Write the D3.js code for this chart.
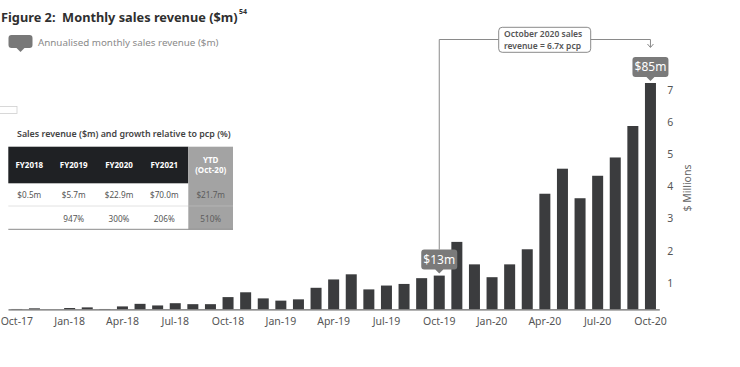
<!DOCTYPE html>
<html><head><meta charset="utf-8">
<script src="https://cdn.jsdelivr.net/npm/d3@7"></script>
<style>
html,body{margin:0;padding:0;background:#fff;}
svg{display:block;}
text{font-family:"Noto Sans",sans-serif;}
</style></head>
<body>
<svg id="c" width="740" height="367"></svg>
<script>
const months = ["Oct-17","Nov-17","Dec-17","Jan-18","Feb-18","Mar-18","Apr-18","May-18","Jun-18","Jul-18","Aug-18","Sep-18",
"Oct-18","Nov-18","Dec-18","Jan-19","Feb-19","Mar-19","Apr-19","May-19","Jun-19","Jul-19","Aug-19","Sep-19",
"Oct-19","Nov-19","Dec-19","Jan-20","Feb-20","Mar-20","Apr-20","May-20","Jun-20","Jul-20","Aug-20","Sep-20","Oct-20"];
const revenue = [0.01,0.03,0.0,0.04,0.06,0.01,0.09,0.17,0.12,0.19,0.16,0.16,
0.38,0.53,0.34,0.27,0.31,0.67,0.93,1.09,0.62,0.74,0.79,0.97,
1.05,2.1,1.40,1.0,1.40,1.87,3.60,4.38,3.46,4.16,4.73,5.71,7.05];
const xTicks = ["Oct-17","Jan-18","Apr-18","Jul-18","Oct-18","Jan-19","Apr-19","Jul-19","Oct-19","Jan-20","Apr-20","Jul-20","Oct-20"];
const yTicks = [1,2,3,4,5,6,7];
const tableHeader = ["FY2018","FY2019","FY2020","FY2021"];
const tableRevenue = ["$0.5m","$5.7m","$22.9m","$70.0m"];
const tableGrowth = ["","947%","300%","206%"];
const ytdRevenue = "$21.7m";
const ytdGrowth = "510%";
const callouts = [{month:"Oct-19", label:"$13m"},{month:"Oct-20", label:"$85m"}];

const svg = d3.select("#c");
const base = 309.3;
const x = d3.scaleBand().domain(months).range([8,659.3]).paddingInner(0.375).paddingOuter(0.19);
const y = d3.scaleLinear().domain([0,7]).range([base, base-7*32.1]);

// title (font size fitted so the text spans the reference width)
const title = svg.append("text").attr("x",1).attr("y",22).attr("fill","#2f2f2f")
  .style("font-size","14px").style("font-weight","700")
  .text("Figure 2:\u00a0\u00a0Monthly sales revenue ($m)");
const natural = title.node().getComputedTextLength();
const fs = Math.min(14, 14*237/natural);
title.style("font-size", fs+"px");
const tEnd = 1 + title.node().getComputedTextLength();
svg.append("text").attr("x",tEnd+1.5).attr("y",14).attr("fill","#2f2f2f")
  .style("font-size","7px").style("font-weight","700").text("54");

// legend
function calloutPath(g, cx, top, w, h, fill){
  const l=cx-w/2, r=cx+w/2, b=top+h, rr=3;
  const p = `M${l+rr},${top}H${r-rr}Q${r},${top} ${r},${top+rr}V${b-rr}Q${r},${b} ${r-rr},${b}H${cx+4}L${cx},${b+4}L${cx-4},${b}H${l+rr}Q${l},${b} ${l},${b-rr}V${top+rr}Q${l},${top} ${l+rr},${top}Z`;
  g.append("path").attr("d",p).attr("fill",fill);
}
calloutPath(svg, 20.5, 35, 24, 13, "#787878");
svg.append("text").attr("x",38).attr("y",46).attr("fill","#8a8a8a").style("font-size","9.8px")
  .text("Annualised monthly sales revenue ($m)");

// stray mark at left edge
svg.append("rect").attr("x",-1).attr("y",106.5).attr("width",18).attr("height",7).attr("fill","none").attr("stroke","#cfcfcf").attr("stroke-width",0.8);

// table
svg.append("text").attr("x",17).attr("y",137).attr("fill","#444").style("font-size","8.9px").style("font-weight","600")
  .text("Sales revenue ($m) and growth relative to pcp (%)");
const colX = [29.3,73.7,119,164.3];
svg.append("rect").attr("x",8.3).attr("y",146.7).attr("width",180).attr("height",36.6).attr("fill","#1f2124");
svg.append("rect").attr("x",188.3).attr("y",146.7).attr("width",44.7).attr("height",82.6).attr("fill","#a3a3a3");
svg.append("line").attr("x1",8.3).attr("x2",188.3).attr("y1",206).attr("y2",206).attr("stroke","#e2e2e2");
svg.append("line").attr("x1",188.3).attr("x2",233).attr("y1",206).attr("y2",206).attr("stroke","#b4b4b4");
svg.append("line").attr("x1",8.3).attr("x2",233).attr("y1",229.3).attr("y2",229.3).attr("stroke","#8a8a8a");
const th = svg.append("g").style("font-size","8px").style("font-weight","700").attr("text-anchor","middle");
th.selectAll("text.h").data(tableHeader).join("text").attr("x",(d,i)=>colX[i]).attr("y",168).attr("fill","#fff").text(d=>d);
th.append("text").attr("x",210.7).attr("y",162.5).attr("fill","#fff").text("YTD");
th.append("text").attr("x",210.7).attr("y",173).attr("fill","#fff").text("(Oct-20)");
const tb = svg.append("g").style("font-size","8.2px").attr("text-anchor","middle").attr("fill","#555");
tb.selectAll("text.r").data(tableRevenue).join("text").attr("x",(d,i)=>colX[i]).attr("y",198).text(d=>d);
tb.selectAll("text.g").data(tableGrowth).join("text").attr("x",(d,i)=>colX[i]).attr("y",222).text(d=>d);
tb.append("text").attr("x",210.7).attr("y",198).attr("fill","#5c5c5c").text(ytdRevenue);
tb.append("text").attr("x",210.7).attr("y",222).attr("fill","#5c5c5c").text(ytdGrowth);

// bars
svg.append("g").selectAll("rect").data(months).join("rect")
  .attr("x",d=>x(d)).attr("width",x.bandwidth())
  .attr("y",(d,i)=>y(revenue[i])).attr("height",(d,i)=>base-y(revenue[i]))
  .attr("fill","#3b3c3e");

// x axis
const xa = svg.append("g").attr("transform",`translate(0,${base})`)
  .call(d3.axisBottom(x).tickValues(xTicks).tickSize(0).tickPadding(8));
xa.select(".domain").attr("stroke","#6a6a6a").attr("stroke-width",1.2);
xa.selectAll("text").attr("fill","#555").style("font-size","10.5px").style("font-family","'Noto Sans',sans-serif");

// y axis right
const ya = svg.append("g").attr("transform","translate(659.3,0)")
  .call(d3.axisRight(y).tickValues(yTicks).tickFormat(d3.format("d")).tickSize(0).tickPadding(8));
ya.select(".domain").remove();
ya.selectAll("text").attr("fill","#555").style("font-size","10.5px").attr("dy","0.85em").style("font-family","'Noto Sans',sans-serif");
svg.append("text").attr("transform","translate(690.5,188) rotate(-90)").attr("text-anchor","middle")
  .attr("fill","#666").style("font-size","10.5px").text("$ Millions");

// callouts
callouts.forEach(c=>{
  const i = months.indexOf(c.month);
  const cx = x(c.month)+x.bandwidth()/2;
  const top = y(revenue[i]) - 6 - 20;
  calloutPath(svg, cx, top, 36, 20, "#7a7a7a");
  svg.append("text").attr("x",cx).attr("y",top+14.5).attr("text-anchor","middle").attr("fill","#fff")
    .style("font-size","12px").text(c.label);
});

// connector
const c1 = x("Oct-19")+x.bandwidth()/2, c2 = x("Oct-20")+x.bandwidth()/2;
const t1 = y(revenue[months.indexOf("Oct-19")]) - 26;
const lineY = 39.5;
svg.append("path").attr("d",`M${c1},${t1}V${lineY}H${c2}V${47}`).attr("fill","none").attr("stroke","#8a8a8a").attr("stroke-width",1);
svg.append("path").attr("d",`M${c2-3},${44}L${c2},${47.5}L${c2+3},${44}`).attr("fill","none").attr("stroke","#8a8a8a").attr("stroke-width",1);
svg.append("rect").attr("x",498.7).attr("y",27.3).attr("width",92).attr("height",25).attr("rx",3.5)
  .attr("fill","#fff").attr("stroke","#8a8a8a").attr("stroke-width",1);
svg.append("text").attr("x",504).attr("y",37).attr("fill","#555").style("font-size","8.5px").style("font-weight","600").text("October 2020 sales");
svg.append("text").attr("x",504).attr("y",48.5).attr("fill","#555").style("font-size","8.5px").style("font-weight","600").text("revenue = 6.7x pcp");
</script>
</body></html>
